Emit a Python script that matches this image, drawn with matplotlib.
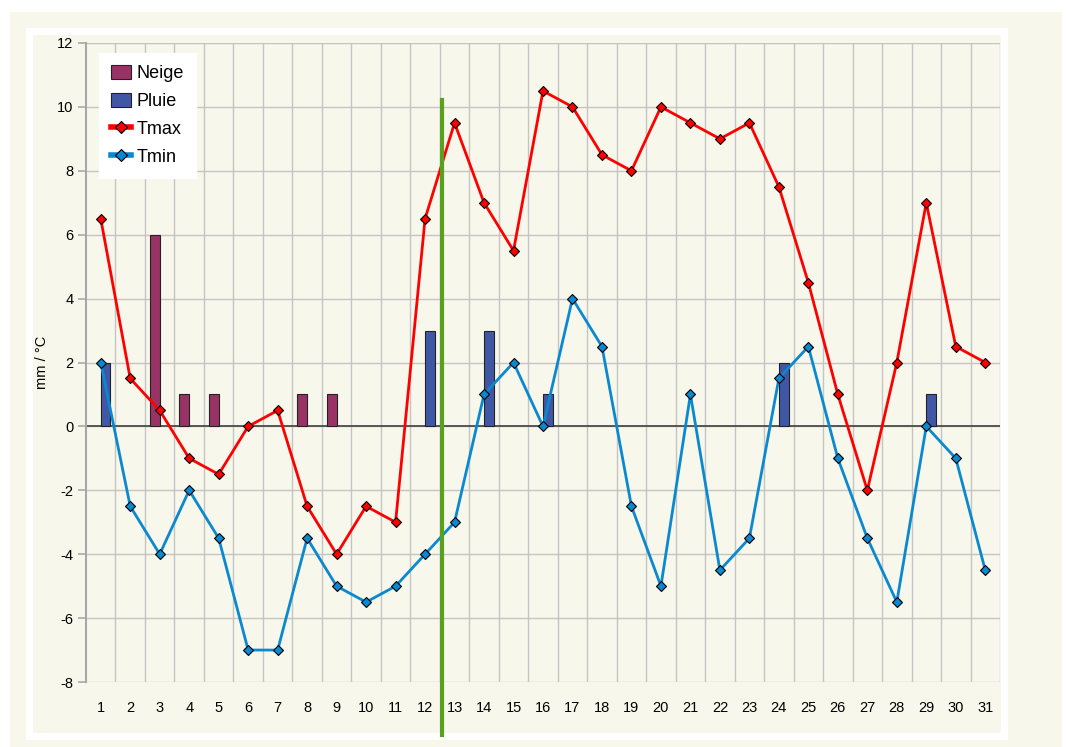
import matplotlib.pyplot as plt
from matplotlib.patches import Rectangle
from matplotlib.lines import Line2D
import numpy as np

plt.rcParams['font.family'] = ['Liberation Sans', 'DejaVu Sans']
plt.rcParams['axes.unicode_minus'] = False

days = list(range(1, 32))
tmax = [6.5, 1.5, 0.5, -1, -1.5, 0, 0.5, -2.5, -4, -2.5, -3, 6.5, 9.5, 7, 5.5, 10.5,
        10, 8.5, 8, 10, 9.5, 9, 9.5, 7.5, 4.5, 1, -2, 2, 7, 2.5, 2]
tmin = [2, -2.5, -4, -2, -3.5, -7, -7, -3.5, -5, -5.5, -5, -4, -3, 1, 2, 0,
        4, 2.5, -2.5, -5, 1, -4.5, -3.5, 1.5, 2.5, -1, -3.5, -5.5, 0, -1, -4.5]
neige = [0, 0, 6, 1, 1, 0, 0, 1, 1, 0, 0, 0, 0, 0, 0, 0,
         0, 0, 0, 0, 0, 0, 0, 0, 0, 0, 0, 0, 0, 0, 0]
pluie = [2, 0, 0, 0, 0, 0, 0, 0, 0, 0, 0, 3, 0, 3, 0, 1,
         0, 0, 0, 0, 0, 0, 0, 2, 0, 0, 0, 0, 1, 0, 0]
marker_day = 12.56

W, H = 1067, 747
fig = plt.figure(figsize=(W / 100, H / 100), dpi=100)
fig.patch.set_facecolor('white')

cream = '#f7f7ec'
# background frames (pixel coords -> figure fraction)
def frame(x0, y0, x1, y1, color):
    fig.patches.append(Rectangle((x0 / W, 1 - y1 / H), (x1 - x0) / W, (y1 - y0) / H,
                                 transform=fig.transFigure, facecolor=color,
                                 edgecolor='none', zorder=-10))
frame(10, 12, 1062, 747, cream)
frame(26, 28, 1008, 740, 'white')
frame(33, 35, 1001, 733, cream)

ax = fig.add_axes([86 / W, 1 - 682 / H, (1000 - 86) / W, (682 - 43) / H])
ax.set_facecolor(cream)

x = np.array(days)
bw = 0.33
neige = np.array(neige)
pluie = np.array(pluie)
nz = neige > 0
pz = pluie > 0
ax.bar(x[nz] - bw / 2, neige[nz], width=bw, color='#993366', edgecolor='#222222',
       linewidth=0.8, zorder=3)
ax.bar(x[pz] + bw / 2, pluie[pz], width=bw, color='#4057a6', edgecolor='#222222',
       linewidth=0.8, zorder=3)

ax.plot(x, tmax, color='#ff0000', lw=2, marker='D', ms=5.5, mfc='#ff0000', mec='black',
        mew=0.8, zorder=5)
ax.plot(x, tmin, color='#0a88d0', lw=2, marker='D', ms=5.5, mfc='#0a88d0', mec='black',
        mew=0.8, zorder=5)

ax.axhline(0, color='#404040', lw=1.2, zorder=2)
ax.plot([marker_day, marker_day], [10.22, -9.66], color='#5aa020', lw=3,
        clip_on=False, zorder=6)

ax.set_xlim(0.5, 31.5)
ax.set_ylim(-8, 12)
ax.set_yticks(np.arange(-8, 13, 2))
ax.set_xticks(x)
ax.set_xticklabels([str(d) for d in days])

# grid: vertical lines at category boundaries
for b in np.arange(1.5, 32, 1):
    ax.axvline(b, color='#c4c4c4', lw=1, zorder=1)
for yv in np.arange(-8, 13, 2):
    ax.axhline(yv, color='#c4c4c4', lw=1, zorder=1)

for s in ['top', 'right', 'bottom']:
    ax.spines[s].set_visible(False)
ax.spines['left'].set_color('#a8a8a8')
ax.spines['left'].set_linewidth(1.5)
ax.tick_params(axis='y', length=6, color='#a8a8a8', width=1.2, labelsize=10.5, pad=3)
ax.tick_params(axis='x', length=0, labelsize=10.5, pad=14)
ax.set_ylabel('mm / °C', fontsize=10.5, labelpad=6)

handles = [
    Rectangle((0, 0), 1, 1, facecolor='#993366', edgecolor='#222222', linewidth=0.8),
    Rectangle((0, 0), 1, 1, facecolor='#4057a6', edgecolor='#222222', linewidth=0.8),
    Line2D([], [], color='#ff0000', lw=4, marker='D', ms=6, mfc='#ff0000', mec='black', mew=0.8),
    Line2D([], [], color='#0a88d0', lw=4, marker='D', ms=6, mfc='#0a88d0', mec='black', mew=0.8),
]
leg = ax.legend(handles, ['Neige', 'Pluie', 'Tmax', 'Tmin'], loc='upper left',
                bbox_to_anchor=(13 / 914, 1 - 10 / 639), borderaxespad=0, fontsize=13,
                frameon=True, fancybox=False, framealpha=1, edgecolor='white',
                handlelength=1.1, handleheight=0.8, handletextpad=0.35, labelspacing=0.6,
                borderpad=0.65)
leg.get_frame().set_facecolor('white')
leg.set_zorder(10)

fig.savefig('out.png', dpi=100, facecolor=fig.get_facecolor())
